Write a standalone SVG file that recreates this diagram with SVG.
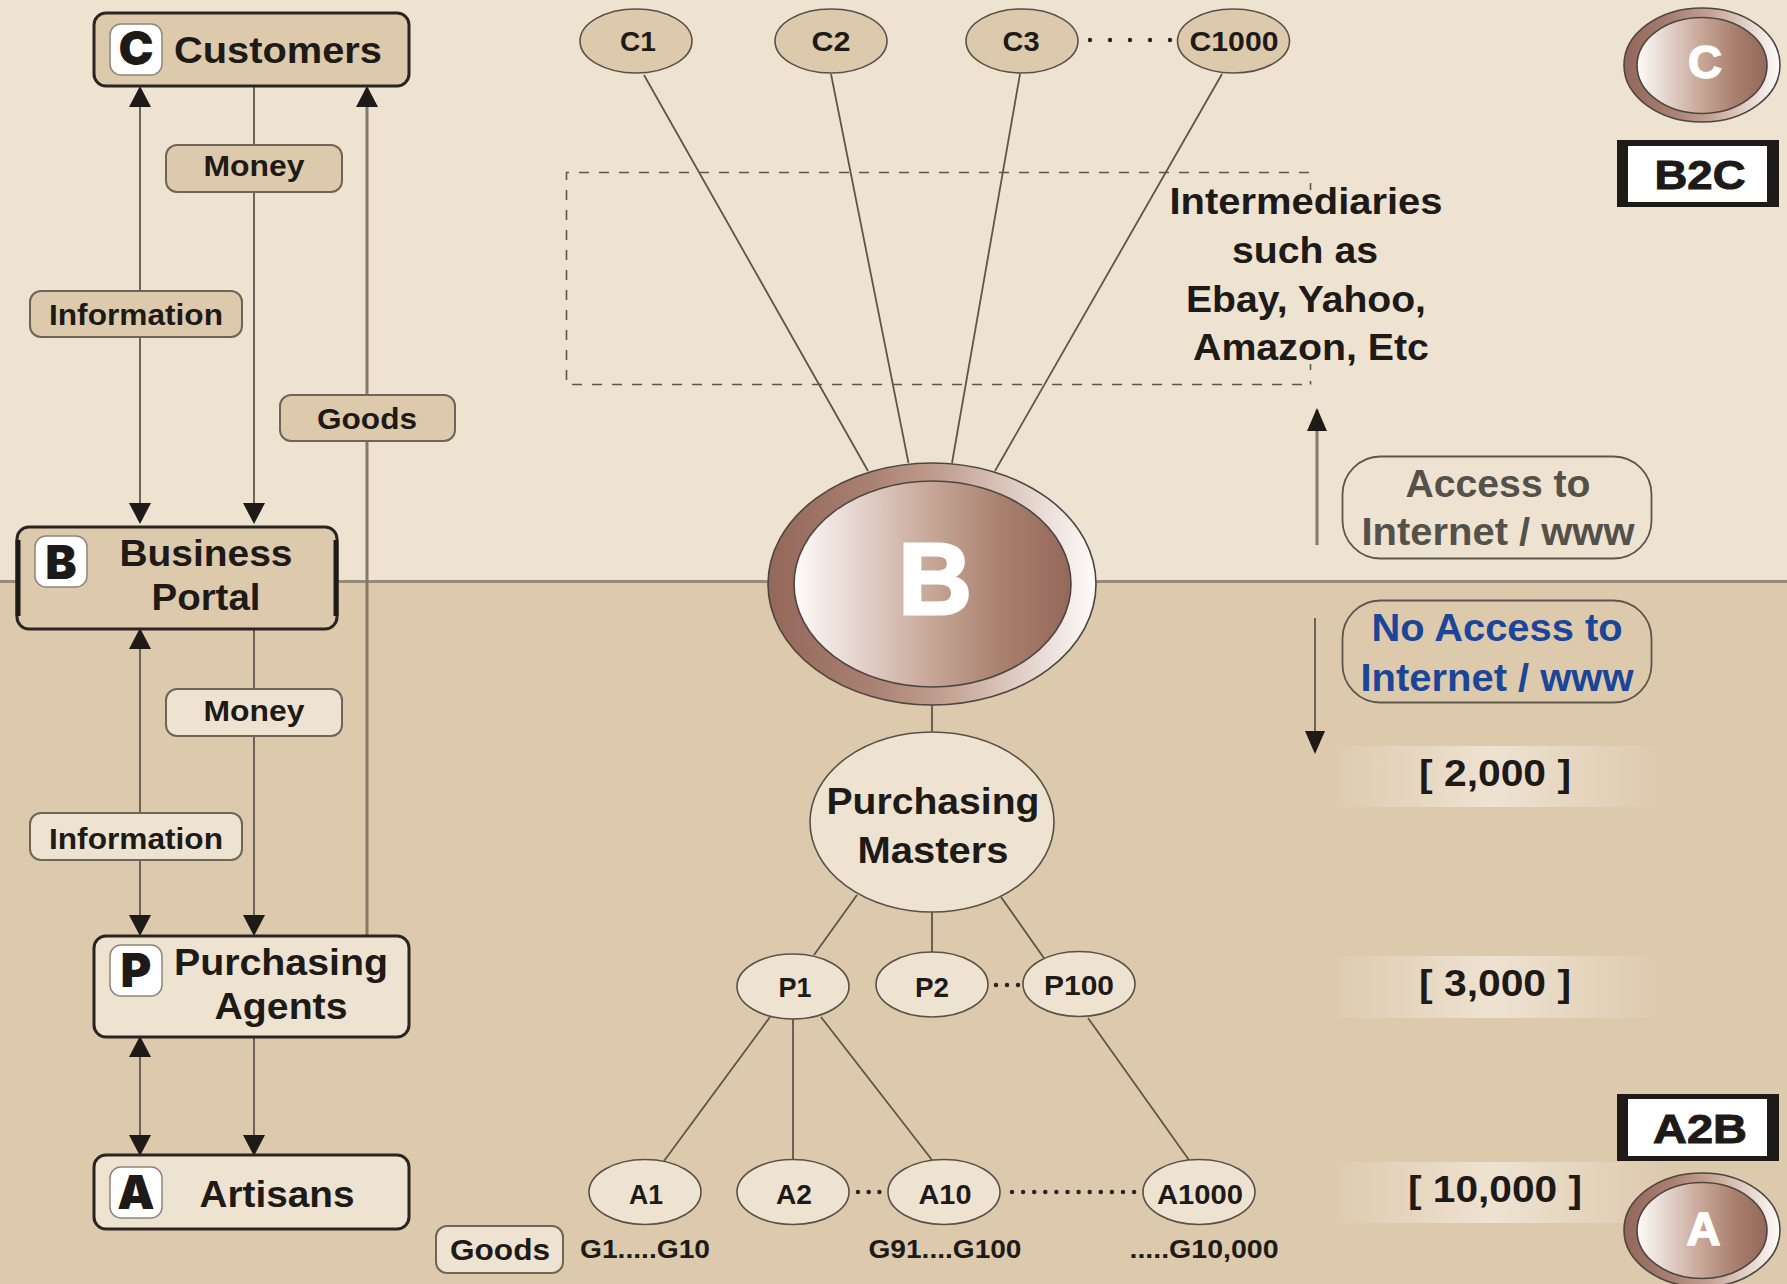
<svg xmlns="http://www.w3.org/2000/svg" width="1787" height="1284" viewBox="0 0 1787 1284">
<style>
text{font-family:"Liberation Sans",Arial,sans-serif;font-weight:700;fill:#1d1a17;text-anchor:middle}
.t36{font-size:37px}.t30{font-size:30px}.t28{font-size:28px}.t26{font-size:26px}
.t38{font-size:38px}.t36r{font-size:37px}
.heavy{font-family:"Inter","Liberation Sans",sans-serif;font-weight:900}
.gray{fill:#54504a}.blue{fill:#1b4596}
.box{stroke:#2a2521;stroke-width:3}
.tan{fill:#DDC9AC}.cream{fill:#EEE2D1}
.lab{stroke:#6f6557;stroke-width:2}
.badge{fill:#fff;stroke:#8d857b;stroke-width:1.5}
.node{stroke:#5a5146;stroke-width:1.6}
.ln{fill:none;stroke:#5f564b;stroke-width:1.8}
.gl{fill:none;stroke:#85796a;stroke-width:3}
.dots{fill:none;stroke:#2a2521;stroke-width:4.500;stroke-linecap:round}
.side{fill:none;stroke:#1d1a17;stroke-width:5}
.pill{fill:none;stroke:#5f564b;stroke-width:1.8}
.ring{stroke:#4d4640;stroke-width:1.6}
.frame{fill:none;stroke:#5f564b;stroke-width:1.6}
.rev{fill:#fff;stroke:#fff;stroke-linejoin:miter}
.tag{stroke:#1d1a17;stroke-width:1}
</style>
<defs>
<marker id="ah" markerUnits="userSpaceOnUse" markerWidth="24" markerHeight="24" refX="19" refY="11" orient="auto-start-reverse"><path d="M0 0L21 11L0 22Z" fill="#1d1a17"/></marker>
<marker id="ah2" markerUnits="userSpaceOnUse" markerWidth="24" markerHeight="22" refX="21" refY="10" orient="auto"><path d="M0 0L23 10L0 20Z" fill="#1d1a17"/></marker>
<linearGradient id="ro"><stop offset="0" stop-color="#93675A"/><stop offset=".3" stop-color="#A87F70"/><stop offset=".55" stop-color="#C4A393"/><stop offset=".8" stop-color="#E4D4CD"/><stop offset="1" stop-color="#FEFCFB"/></linearGradient>
<linearGradient id="ri"><stop offset="0" stop-color="#FDFBFA"/><stop offset=".25" stop-color="#E2D0C9"/><stop offset=".5" stop-color="#C6A696"/><stop offset=".75" stop-color="#A98070"/><stop offset="1" stop-color="#94685A"/></linearGradient>
<linearGradient id="band"><stop offset="0" stop-color="#EEE2D1" stop-opacity="0"/><stop offset=".5" stop-color="#EEE2D1"/><stop offset="1" stop-color="#EEE2D1" stop-opacity="0"/></linearGradient>
</defs>
<g id="background">
<rect width="1787" height="582" fill="#EEE2D1"/>
<rect y="582" width="1787" height="702" fill="#DDC9AC"/>
<path d="M0 581.500H1787" stroke="#968A78" stroke-width="3"/>
</g>
<g id="connectors">
<path class="ln" d="M140 88V522" marker-start="url(#ah)" marker-end="url(#ah)"/>
<path class="ln" d="M254 87V522" marker-end="url(#ah)"/>
<path class="gl" d="M367 935V88" marker-end="url(#ah)"/>
<path class="ln" d="M140 630V934" marker-start="url(#ah)" marker-end="url(#ah)"/>
<path class="ln" d="M254 629V934" marker-end="url(#ah)"/>
<path class="ln" d="M140 1038V1154" marker-start="url(#ah)" marker-end="url(#ah)"/>
<path class="ln" d="M254 1037V1154" marker-end="url(#ah)"/>
<path class="ln" d="M644 75L868 471M831 74L908.500 463M1020 74L952 463M1222 74L995 471"/>
<path class="ln" d="M932 705V733M857 895L814 955M932 912V952M1001 897L1046 961"/>
<path class="ln" d="M770 1017L664 1161M793 1018V1160M821 1017L932 1160M1088 1018L1189 1160"/>
<path class="gl" d="M1317 545V410" marker-end="url(#ah2)"/>
<path class="ln" d="M1315 618V752" marker-end="url(#ah2)"/>
<path class="dots" d="M1090 40H1171" stroke-dasharray="0 20"/>
<path class="dots" d="M996 985H1019" stroke-dasharray="0 11"/>
<path class="dots" d="M858 1192H880" stroke-dasharray="0 10.700"/>
<path class="dots" d="M1012 1192H1135" stroke-dasharray="0 11.100"/>
</g>
<g id="intermediaries-frame"><path class="frame" d="M1309 172.500H566.500V384.500H1311" stroke-dasharray="10 10"/><path class="frame" d="M1310.500 183V190M1310.500 364V370M1310.500 381V384.500"/></g>
<g id="node-customers"><rect class="box tan" x="94" y="13" width="315" height="73" rx="12"/><rect class="badge" x="110" y="24" width="52" height="51" rx="11"/><text class="heavy" x="136" y="65" font-size="47">C</text><text class="t36" x="278" y="63" textLength="208" lengthAdjust="spacingAndGlyphs">Customers</text></g>
<g id="node-business"><rect class="box tan" x="17" y="527" width="320" height="102" rx="12"/><path class="side" d="M18 540V616M336 540V616"/><rect class="badge" x="35" y="536" width="52" height="51" rx="11"/><text class="heavy" x="61" y="579" font-size="47">B</text><text class="t36" x="206" y="566" textLength="173" lengthAdjust="spacingAndGlyphs">Business</text><text class="t36" x="206" y="610" textLength="109" lengthAdjust="spacingAndGlyphs">Portal</text></g>
<g id="node-purchasing"><rect class="box cream" x="94" y="936" width="315" height="101" rx="12"/><rect class="badge" x="110" y="945" width="52" height="51" rx="11"/><text class="heavy" x="136" y="987" font-size="47">P</text><text class="t36" x="281" y="975" textLength="214" lengthAdjust="spacingAndGlyphs">Purchasing</text><text class="t36" x="281" y="1019" textLength="133" lengthAdjust="spacingAndGlyphs">Agents</text></g>
<g id="node-artisans"><rect class="box cream" x="94" y="1155" width="315" height="74" rx="12"/><rect class="badge" x="110" y="1167" width="52" height="51" rx="11"/><text class="heavy" x="136" y="1209" font-size="47">A</text><text class="t36" x="277" y="1207" textLength="155" lengthAdjust="spacingAndGlyphs">Artisans</text></g>
<g id="label-money-1"><rect class="lab tan" x="166" y="145" width="176" height="47" rx="11"/><text class="t30" x="254" y="176" textLength="101" lengthAdjust="spacingAndGlyphs">Money</text></g>
<g id="label-information-1"><rect class="lab tan" x="30" y="291" width="212" height="46" rx="11"/><text class="t30" x="136" y="325" textLength="174" lengthAdjust="spacingAndGlyphs">Information</text></g>
<g id="label-goods-1"><rect class="lab tan" x="280" y="395" width="175" height="46" rx="11"/><text class="t30" x="367" y="429" textLength="100" lengthAdjust="spacingAndGlyphs">Goods</text></g>
<g id="label-money-2"><rect class="lab cream" x="166" y="689" width="176" height="47" rx="11"/><text class="t30" x="254" y="721" textLength="101" lengthAdjust="spacingAndGlyphs">Money</text></g>
<g id="label-information-2"><rect class="lab cream" x="30" y="813" width="212" height="47" rx="11"/><text class="t30" x="136" y="849" textLength="174" lengthAdjust="spacingAndGlyphs">Information</text></g>
<g id="label-goods-3"><rect class="lab cream" x="436" y="1226" width="127" height="47" rx="11"/><text class="t30" x="500" y="1260" textLength="100" lengthAdjust="spacingAndGlyphs">Goods</text></g>
<g id="node-c1"><ellipse class="node tan" cx="636" cy="41" rx="56" ry="32"/><text class="t28" x="638" y="51" textLength="36" lengthAdjust="spacingAndGlyphs">C1</text></g>
<g id="node-c2"><ellipse class="node tan" cx="831" cy="41" rx="56" ry="32"/><text class="t28" x="831" y="51" textLength="39" lengthAdjust="spacingAndGlyphs">C2</text></g>
<g id="node-c3"><ellipse class="node tan" cx="1022" cy="41" rx="56" ry="32"/><text class="t28" x="1021" y="51" textLength="37" lengthAdjust="spacingAndGlyphs">C3</text></g>
<g id="node-c1000"><ellipse class="node tan" cx="1233.500" cy="41" rx="56" ry="32"/><text class="t28" x="1234" y="51" textLength="89" lengthAdjust="spacingAndGlyphs">C1000</text></g>
<g id="node-b"><ellipse class="ring" fill="url(#ro)" cx="932" cy="584" rx="164" ry="121"/><ellipse class="ring" fill="url(#ri)" cx="932.500" cy="584" rx="138.500" ry="103"/><text class="rev" style="fill:#fff" x="935" y="614" font-size="102" stroke-width="3">B</text></g>
<g id="node-purchasing-masters"><ellipse class="node cream" cx="932" cy="822" rx="122" ry="90"/><text class="t36" x="933" y="814" textLength="213" lengthAdjust="spacingAndGlyphs">Purchasing</text><text class="t36" x="933" y="863" textLength="151" lengthAdjust="spacingAndGlyphs">Masters</text></g>
<g id="node-p1"><ellipse class="node cream" cx="793" cy="986.500" rx="56" ry="32.500"/><text class="t28" x="795" y="997" textLength="33" lengthAdjust="spacingAndGlyphs">P1</text></g>
<g id="node-p2"><ellipse class="node cream" cx="932" cy="984.500" rx="56" ry="32.500"/><text class="t28" x="932" y="997" textLength="34" lengthAdjust="spacingAndGlyphs">P2</text></g>
<g id="node-p100"><ellipse class="node cream" cx="1079" cy="984" rx="56" ry="32.500"/><text class="t28" x="1079" y="995" textLength="70" lengthAdjust="spacingAndGlyphs">P100</text></g>
<g id="node-a1"><ellipse class="node cream" cx="645" cy="1192" rx="56" ry="32.500"/><text class="t28" x="646" y="1204" textLength="34" lengthAdjust="spacingAndGlyphs">A1</text></g>
<g id="node-a2"><ellipse class="node cream" cx="793" cy="1192" rx="56" ry="32.500"/><text class="t28" x="794" y="1204" textLength="36" lengthAdjust="spacingAndGlyphs">A2</text></g>
<g id="node-a10"><ellipse class="node cream" cx="944" cy="1192" rx="56" ry="32.500"/><text class="t28" x="945" y="1204" textLength="53" lengthAdjust="spacingAndGlyphs">A10</text></g>
<g id="node-a1000"><ellipse class="node cream" cx="1199" cy="1192" rx="56" ry="32.500"/><text class="t28" x="1200" y="1204" textLength="86" lengthAdjust="spacingAndGlyphs">A1000</text></g>
<g id="goods-ranges"><text class="t26" x="645" y="1258" textLength="130" lengthAdjust="spacingAndGlyphs">G1.....G10</text><text class="t26" x="945" y="1258" textLength="153" lengthAdjust="spacingAndGlyphs">G91....G100</text><text class="t26" x="1204" y="1258" textLength="149" lengthAdjust="spacingAndGlyphs">.....G10,000</text></g>
<g id="intermediaries-label"><text class="t36" x="1306" y="214" textLength="273" lengthAdjust="spacingAndGlyphs">Intermediaries</text><text class="t36" x="1305" y="263" textLength="146" lengthAdjust="spacingAndGlyphs">such as</text><text class="t36" x="1306" y="312" textLength="240" lengthAdjust="spacingAndGlyphs">Ebay, Yahoo,</text><text class="t36" x="1311" y="360" textLength="236" lengthAdjust="spacingAndGlyphs">Amazon, Etc</text></g>
<g id="access"><rect class="pill" x="1342.500" y="456.500" width="309" height="102" rx="38"/><text class="t38 gray" x="1498" y="497" textLength="185" lengthAdjust="spacingAndGlyphs">Access to</text><text class="t38 gray" x="1498" y="545" textLength="273" lengthAdjust="spacingAndGlyphs">Internet / www</text></g>
<g id="no-access"><rect class="pill" x="1342.500" y="600.500" width="309" height="102" rx="38"/><text class="t38 blue" x="1497" y="641" textLength="251" lengthAdjust="spacingAndGlyphs">No Access to</text><text class="t38 blue" x="1497" y="691" textLength="273" lengthAdjust="spacingAndGlyphs">Internet / www</text></g>
<g id="count-2000"><rect x="1320" y="746" width="347" height="61" fill="url(#band)"/><text class="t36r" x="1495" y="786" textLength="152" lengthAdjust="spacingAndGlyphs">[ 2,000 ]</text></g>
<g id="count-3000"><rect x="1320" y="956" width="347" height="62" fill="url(#band)"/><text class="t36r" x="1495" y="996" textLength="152" lengthAdjust="spacingAndGlyphs">[ 3,000 ]</text></g>
<g id="count-10000"><rect x="1320" y="1162" width="347" height="61" fill="url(#band)"/><text class="t36r" x="1495" y="1202" textLength="174" lengthAdjust="spacingAndGlyphs">[ 10,000 ]</text></g>
<g id="node-c-badge"><ellipse class="ring" fill="url(#ro)" cx="1702" cy="65" rx="78" ry="57"/><ellipse class="ring" fill="url(#ri)" cx="1702" cy="65.500" rx="65" ry="48"/><text class="rev" style="fill:#fff" x="1705" y="78" font-size="47" stroke-width="1.500">C</text></g>
<g id="tag-b2c"><rect x="1617" y="140" width="162" height="67" fill="#1d1a17"/><rect x="1628" y="146" width="139" height="56" fill="#fff"/><text class="tag" x="1700" y="189" font-size="41" textLength="91" lengthAdjust="spacingAndGlyphs">B2C</text></g>
<g id="tag-a2b"><rect x="1617" y="1094" width="162" height="67" fill="#1d1a17"/><rect x="1628" y="1099" width="139" height="57" fill="#fff"/><text class="tag" x="1700" y="1143" font-size="41" textLength="94" lengthAdjust="spacingAndGlyphs">A2B</text></g>
<g id="node-a-badge"><ellipse class="ring" fill="url(#ro)" cx="1702" cy="1230" rx="78" ry="57"/><ellipse class="ring" fill="url(#ri)" cx="1702" cy="1230.500" rx="65" ry="48"/><text class="rev" style="fill:#fff" x="1703.500" y="1245" font-size="47" stroke-width="1.500">A</text></g>
</svg>
